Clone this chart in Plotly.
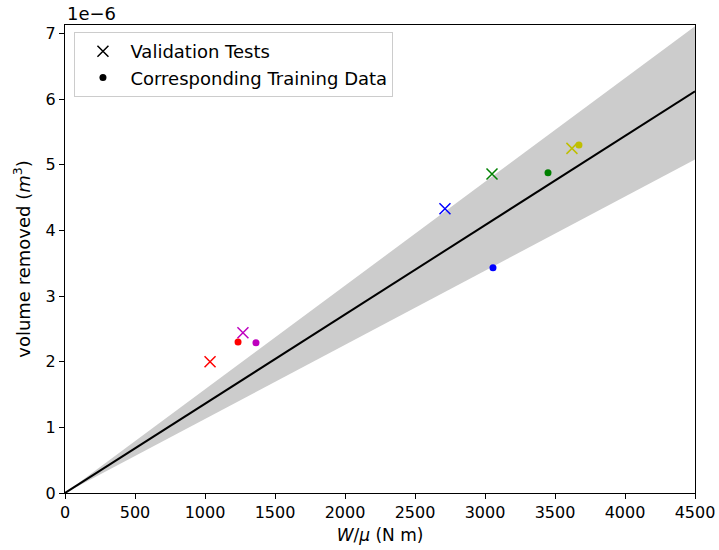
import plotly.graph_objects as go

# Fit line and confidence band (m^3)
x_fit = [0, 4500]
y_fit = [0, 6.12e-6]
y_upper = [0, 7.11e-6]
y_lower = [0, 5.08e-6]

# Validation tests (x markers)
val_x = [1036, 1271, 2714, 3050, 3621]
val_y = [2.00e-6, 2.44e-6, 4.33e-6, 4.86e-6, 5.25e-6]
# Corresponding training data (dots)
train_x = [1236, 1364, 3057, 3450, 3671]
train_y = [2.30e-6, 2.29e-6, 3.43e-6, 4.88e-6, 5.30e-6]
colors = ["#ff0000", "#bf00bf", "#0000ff", "#008000", "#bfbf00"]

x_ticks = [0, 500, 1000, 1500, 2000, 2500, 3000, 3500, 4000, 4500]
y_ticks = [0, 1, 2, 3, 4, 5, 6, 7]

fig = go.Figure()
fig.add_trace(go.Scatter(x=x_fit, y=y_lower, mode="lines", line=dict(width=0),
                         showlegend=False, hoverinfo="skip"))
fig.add_trace(go.Scatter(x=x_fit, y=y_upper, mode="lines", line=dict(width=0),
                         fill="tonexty", fillcolor="#cccccc", showlegend=False, hoverinfo="skip"))
fig.add_trace(go.Scatter(x=x_fit, y=y_fit, mode="lines", line=dict(color="black", width=2),
                         showlegend=False))
fig.add_trace(go.Scatter(x=val_x, y=val_y, mode="markers", showlegend=False,
                         marker=dict(symbol="x-thin", size=11, color=colors,
                                     line=dict(color=colors, width=1.5))))
fig.add_trace(go.Scatter(x=train_x, y=train_y, mode="markers", showlegend=False,
                         marker=dict(symbol="circle", size=7, color=colors)))
# legend entries
fig.add_trace(go.Scatter(x=[None], y=[None], mode="markers", name="Validation Tests",
                         legendgroup="a",
                         marker=dict(symbol="x-thin", size=11, color="black",
                                     line=dict(color="black", width=1.5))))
fig.add_trace(go.Scatter(x=[None], y=[None], mode="markers", name="Corresponding Training Data",
                         legendgroup="b",
                         marker=dict(symbol="circle", size=7, color="black")))

axis_common = dict(showline=True, linecolor="black", linewidth=1, mirror=True,
                   ticks="outside", ticklen=5, tickcolor="black", showgrid=False,
                   zeroline=False, automargin=False, tickfont=dict(size=16, color="black"))

fig.update_layout(
    width=719, height=550,
    margin=dict(l=65, r=24, t=25, b=57),
    plot_bgcolor="white", paper_bgcolor="white",
    font=dict(family="DejaVu Sans", size=18, color="black"),
    xaxis=dict(range=[0, 4500], tickvals=x_ticks,
               title=dict(text="<i>W</i>/<i>μ</i> (N m)", font=dict(size=17), standoff=7),
               **axis_common),
    yaxis=dict(range=[0, 7.13e-6], tickvals=[v * 1e-6 for v in y_ticks],
               ticktext=[str(v) for v in y_ticks],
               title=dict(text="volume removed (<i>m</i><sup>3</sup>)", font=dict(size=18), standoff=10),
               **axis_common),
    legend=dict(x=0.015, y=0.985, xanchor="left", yanchor="top", traceorder="grouped",
                bgcolor="rgba(255,255,255,0.8)", bordercolor="#cccccc", borderwidth=1,
                font=dict(size=18), tracegroupgap=0, itemwidth=45),
    annotations=[dict(text="1e−6", x=0, y=1, xref="paper", yref="paper",
                      xanchor="left", yanchor="bottom", showarrow=False,
                      font=dict(size=18), yshift=-1)],
)

fig.write_html("out.html")
